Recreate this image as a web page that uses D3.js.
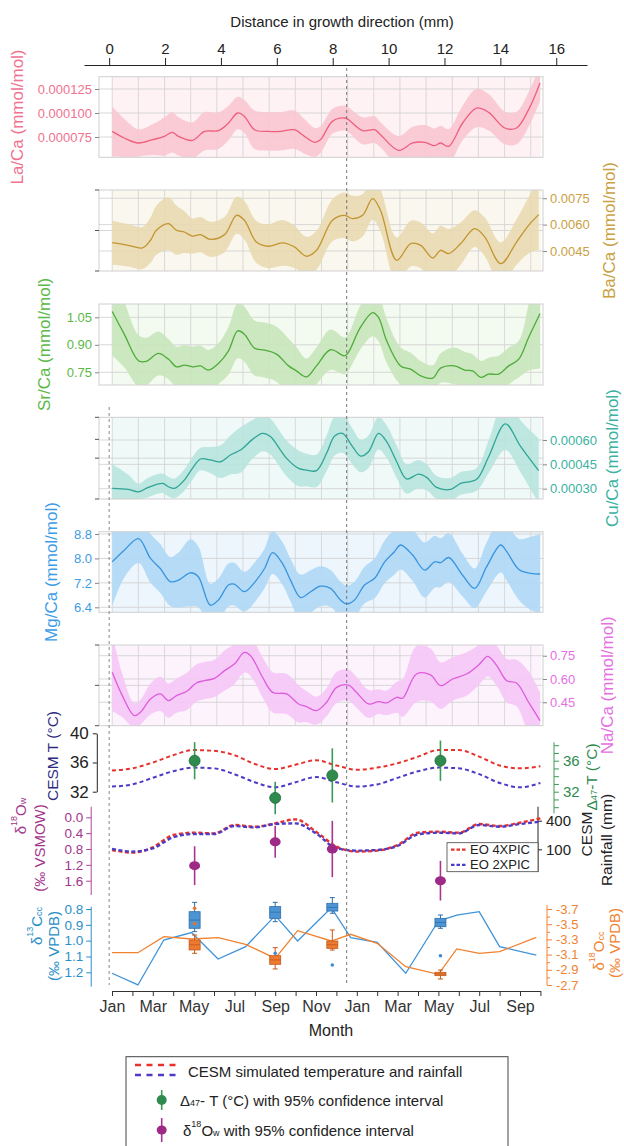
<!DOCTYPE html>
<html>
<head>
<meta charset="utf-8">
<script src="https://cdn.jsdelivr.net/npm/d3@7"></script>
<style>
  html, body { margin: 0; padding: 0; background: #fff; }
  svg { display: block; }
</style>
</head>
<body>
<script>
// ---------------- data ----------------
const distTicks = [0, 2, 4, 6, 8, 10, 12, 14, 16];

// La/Ca (x1e-6 mmol/mol): smoothed mean and half-width of the confidence band
const laMm   = [0.11,0.54,1.05,1.55,1.98,2.26,2.48,2.98,3.41,3.91,4.27,4.60,4.84,5.20,5.70,6.13,6.63,6.99,7.35,7.56,7.99,8.42,8.56,9.07,9.50,9.71,10.36,10.86,11.29,11.65,11.86,12.15,12.65,13.15,13.58,14.16,14.58,15.01,15.42];
const laMean = [80.9,74,68.8,72.2,75.7,79.9,75.7,71.5,80.9,81.6,89.6,100,96.5,82.6,80.9,80.9,82.6,75.7,69.5,72.2,91.3,94.8,93.1,81.6,82.6,77.4,61.1,68.8,69.5,66,68.8,65.3,89.6,105.2,100.7,84.4,84.4,103.5,131.2];
const laHw   = [26,20,14,16,20,21,20,19,20,19,18,17,17,20,20,20,20,18,15,14,13,13,13,14,14,13,15,17,18,18,18,18,18,20,19,17,17,18,19];
const laTicks = [75, 100, 125];

// Ba/Ca (x1e-4 mmol/mol)
const baMm   = [0.11,0.69,1.19,1.48,1.69,2.12,2.41,2.69,2.98,3.27,3.62,4.13,4.56,4.84,5.27,5.70,6.20,6.63,7.06,7.42,7.99,8.42,8.71,9.07,9.43,9.71,10.29,10.79,11.15,11.58,11.86,12.15,12.58,13.08,13.44,14.01,14.58,15.01,15.37];
const baMean = [49.7,48.2,46.7,51.1,56.8,60.6,56.8,55.8,53.5,54.3,51.6,54.3,65.3,62.5,50.1,47.7,49.6,47.3,42,45.4,62.5,65.3,63.4,65.3,74.8,68.2,39.7,49.2,48.2,41,45.4,43.5,49.2,57.7,53,37.8,50.1,59.6,65.7];
const baHw   = [12.5,12,12,13,14,15,14,12,10,10,10,10,10.5,11,12,12.5,13,12,11,11,12,13,13,12,12,12,13,13,13,14,14,14,12,10.5,11,12,13,16,20];
const baTicks = [45, 60, 75];

// Sr/Ca (mmol/mol)
const srMm   = [0.11,0.54,1.05,1.33,1.76,2.12,2.41,2.69,2.98,3.27,3.55,3.91,4.27,4.60,4.84,5.20,5.56,5.99,6.42,6.70,7.06,7.42,7.92,8.42,8.56,8.99,9.43,9.64,9.93,10.43,10.79,11.15,11.58,11.86,12.36,12.72,13.01,13.30,13.58,13.94,14.30,14.66,15.01,15.42];
const srMean = [1.082,0.958,0.813,0.809,0.853,0.822,0.780,0.789,0.780,0.785,0.762,0.798,0.867,0.976,0.958,0.882,0.871,0.849,0.785,0.758,0.725,0.785,0.873,0.840,0.858,0.995,1.076,1.049,0.922,0.785,0.767,0.731,0.718,0.773,0.785,0.762,0.758,0.722,0.740,0.740,0.785,0.822,0.940,1.071];
const srHw   = [0.24,0.18,0.14,0.13,0.12,0.11,0.11,0.11,0.11,0.11,0.11,0.11,0.13,0.15,0.15,0.15,0.15,0.15,0.15,0.13,0.10,0.10,0.11,0.10,0.10,0.12,0.13,0.13,0.12,0.10,0.09,0.08,0.07,0.08,0.10,0.10,0.09,0.09,0.09,0.10,0.10,0.10,0.18,0.30];
const srTicks = [0.75, 0.90, 1.05];

// Cu/Ca (x1e-5 mmol/mol)
const cuMm   = [0.11,0.69,1.05,1.40,1.91,2.12,2.34,2.69,2.98,3.27,3.62,3.98,4.34,4.70,5.13,5.49,5.77,6.13,6.35,6.78,7.06,7.42,7.78,8.07,8.35,8.71,9.00,9.28,9.64,9.93,10.29,10.64,11.07,11.36,11.72,12.22,12.58,13.15,13.58,14.18,14.73,15.37];
const cuMean = [30.2,29.6,28.1,30.8,33.3,31.2,30.2,35.3,42.5,48.3,47.7,46.6,50.8,53.8,60.4,64.1,62.1,53.8,48.7,42.5,41.5,41.1,51.8,62.5,64.1,55.9,50.1,52.8,64.1,59,46.6,36,39,37,30.8,29.6,33.3,35.8,49.7,69.9,55.9,41.1];
const cuHw   = [15,9,5,6,6,6,6,6.5,7,7,8,10,12,14,12,11,11,11,11,11,10,10,11,12,12,11,10,10,10,10,10,9,8.7,8,7,7,7,7,10,16,16,20];
const cuTicks = [30, 45, 60];

// Mg/Ca (mmol/mol)
const mgMm   = [0.11,0.54,1.05,1.48,1.83,2.19,2.48,2.91,3.19,3.62,3.91,4.27,4.48,4.84,5.27,5.56,5.85,6.20,6.49,6.85,7.21,7.56,7.92,8.28,8.50,8.78,9.14,9.50,9.86,10.21,10.43,10.86,11.29,11.65,11.86,12.15,12.65,13.08,13.51,14.01,14.23,14.66,15.09,15.42];
const mgMean = [7.89,8.27,8.65,8.0,7.67,7.24,7.29,7.53,7.40,6.47,6.64,7.13,7.16,6.91,7.29,7.67,8.19,7.84,7.29,6.72,6.91,7.09,7.02,6.64,6.51,6.64,7.13,7.35,7.89,8.22,8.44,8.11,7.62,7.89,7.86,8.03,7.45,7.02,7.73,8.44,8.22,7.64,7.51,7.49];
const mgHw   = [1.45,0.9,0.8,0.8,0.8,0.8,0.9,1.1,1.0,0.7,0.7,0.7,0.7,0.65,0.65,0.65,0.7,0.7,0.7,0.75,0.7,0.65,0.6,0.6,0.6,0.6,0.6,0.65,0.7,0.75,0.8,0.85,0.9,0.85,0.8,0.8,0.7,0.65,0.8,0.9,0.95,1.0,1.2,1.3];
const mgTicks = [6.4, 7.2, 8.0, 8.8];

// Na/Ca (mmol/mol)
const naMm   = [0.11,0.47,0.90,1.12,1.48,1.83,2.12,2.41,2.77,3.12,3.41,3.77,4.13,4.48,4.84,5.06,5.49,5.85,6.35,6.78,7.06,7.42,7.78,8.14,8.56,8.85,9.28,9.64,9.93,10.29,10.50,11.00,11.50,11.86,12.29,12.79,13.22,13.55,13.87,14.23,14.58,15.01,15.42];
const naMean = [0.643,0.493,0.364,0.386,0.471,0.504,0.461,0.493,0.519,0.574,0.589,0.604,0.654,0.696,0.771,0.750,0.611,0.514,0.504,0.439,0.422,0.396,0.450,0.546,0.561,0.514,0.439,0.454,0.446,0.482,0.476,0.632,0.626,0.557,0.600,0.632,0.690,0.746,0.686,0.589,0.574,0.450,0.332];
const naHw   = [0.25,0.14,0.08,0.08,0.10,0.11,0.11,0.11,0.12,0.12,0.12,0.12,0.13,0.13,0.13,0.13,0.13,0.13,0.13,0.12,0.10,0.09,0.09,0.10,0.10,0.10,0.09,0.08,0.08,0.10,0.12,0.18,0.17,0.15,0.14,0.14,0.13,0.13,0.13,0.14,0.15,0.20,0.18];
const naTicks = [0.45, 0.60, 0.75];

// CESM monthly output, Jan (year 1) .. Oct (year 2)
const monthLabels = ["Jan","","Mar","","May","","Jul","","Sep","","Nov","","Jan","","Mar","","May","","Jul","","Sep",""];
const tempEO4 = [34.9,35.2,36.0,37.0,37.7,37.6,37.0,35.8,35.1,35.7,36.3,35.6,35.0,35.3,35.9,36.8,37.7,37.7,36.8,35.6,35.2,35.5];
const tempEO2 = [32.7,33.0,33.9,34.8,35.3,35.2,34.4,33.3,32.6,33.3,34.0,33.3,32.7,33.0,33.9,34.8,35.3,35.2,34.4,33.2,32.6,33.2];
const rainEO4 = [93,65,121,250,274,267,355,337,372,414,285,128,76,86,145,274,285,274,365,344,379,424];
const rainEO2 = [104,76,110,226,260,260,344,330,365,372,267,110,86,93,135,257,274,267,355,337,365,390];
const tempTicks = [32, 36, 40];
const rainTicks = [100, 400];

// clumped-isotope samples (month position of each sample)
const sampleMonth = [4.05, 8.0, 10.8, 16.1];
const d47T   = [36.0, 31.2, 34.1, 36.0];
const d47CI  = [2.4, 2.1, 3.5, 2.6];
const d47Ticks = [32, 36];
const d18Ow  = [1.22, 0.62, 0.80, 1.60];
const d18OwCI = [0.49, 0.40, 0.71, 0.50];
const d18OwTicks = [0.0, 0.4, 0.8, 1.2, 1.6];

// carbonate isotopes
const isoMonth = [0,1.27,2.54,3.9,5.2,6.55,8.0,9.1,10.75,11.7,13.0,14.4,16.0,16.9,18.0,19.0,20.8];
const d13C = [1.206,1.28,0.996,0.949,1.116,1.038,0.842,1.002,0.792,0.981,1.011,1.206,0.876,0.838,0.817,1.038,1.091];
const d18Occ = [-3.125,-3.125,-3.336,-3.305,-3.323,-3.235,-3.05,-3.415,-3.279,-3.367,-3.248,-2.941,-2.84,-3.174,-3.117,-3.139,-3.327];
const d13CTicks = [0.8, 0.9, 1.0, 1.1, 1.2];
const d18OccTicks = [-3.7, -3.5, -3.3, -3.1, -2.9, -2.7];

// box summaries per sample: lower whisker, Q1, median, Q3, upper whisker
const c13Lo  = [0.758, 0.758, 0.728, 0.838];
const c13Q1  = [0.817, 0.785, 0.764, 0.859];
const c13Med = [0.870, 0.820, 0.790, 0.885];
const c13Q3  = [0.922, 0.859, 0.813, 0.912];
const c13Hi  = [0.943, 0.880, 0.827, 0.922];
const c13OutMonth = [8.0, 10.8, 16.1];
const c13Out      = [1.08, 1.154, 1.095];
const o18Lo  = [-3.358, -3.191, -3.424, -2.897];
const o18Q1  = [-3.292, -3.086, -3.279, -2.867];
const o18Med = [-3.230, -3.030, -3.230, -2.845];
const o18Q3  = [-3.161, -2.972, -3.182, -2.823];
const o18Hi  = [-3.117, -2.911, -3.160, -2.779];
const o18OutMonth = [4.05, 4.05];
const o18Out      = [-3.71, -3.51];

// ---------------- layout ----------------
const W = 624, H = 1146;
const FONT = "'Liberation Sans', Arial, Helvetica, sans-serif";
const svg = d3.select("body").append("svg")
  .attr("width", W).attr("height", H)
  .attr("font-family", FONT);
const defs = svg.append("defs");

const PL = 99, PR = 543;                         // element panel edges
const x  = d3.scaleLinear().domain([-0.9, 17.1]).range([84, 587]);   // distance (mm)
const xm = d3.scaleLinear().domain([0, 21]).range([112, 540.4]);     // month index
const gridMm = d3.range(17).map(k => 0.11 + k * 0.936);

function styleAxis(g, size, color, tickColor) {
  g.attr("font-family", FONT).attr("font-size", size);
  g.selectAll("text").attr("fill", color);
  g.selectAll(".tick line").attr("stroke", tickColor);
  g.select(".domain").attr("stroke", tickColor);
}

// rotated (bottom-to-top) label made of plain / sup / sub pieces
function rotText(xc, yc, parts, size, color) {
  const t = svg.append("text")
    .attr("transform", `translate(${xc},${yc}) rotate(-90)`)
    .attr("text-anchor", "middle").attr("dominant-baseline", "central")
    .attr("font-size", size).attr("fill", color);
  addParts(t, parts, size);
  return t;
}
function addParts(t, parts, size) {
  let shift = 0;
  parts.forEach(([s, kind]) => {
    const target = kind === "sup" ? -0.38 * size : kind === "sub" ? 0.22 * size : 0;
    const ts = t.append("tspan").text(s);
    if (kind) ts.attr("font-size", size * 0.6);
    const dy = target - shift;
    if (dy !== 0) ts.attr("dy", dy);
    shift = target;
  });
}

// ---------------- distance axis ----------------
const topAx = svg.append("g").attr("transform", "translate(0,65)")
  .call(d3.axisTop(x).tickValues(distTicks).tickSize(7).tickSizeOuter(0).tickPadding(4));
styleAxis(topAx, 15, "#222", "#222");
topAx.select(".domain").attr("stroke-width", 1.2);
svg.append("text").attr("x", 342).attr("y", 27).attr("text-anchor", "middle")
  .attr("font-size", 15).attr("fill", "#222").text("Distance in growth direction (mm)");

// ---------------- element panels ----------------
const elementPanels = [
  { name: "La", mm: laMm, mean: laMean, hw: laHw, ticks: laTicks, unit: 1e-6, digits: 6,
    top: 76.7, bottom: 157.3, domain: [53.9, 137.8], side: "left", titleX: 17,
    text: "#f2718f", line: "#ef5f7d", band: "#f9c6d1", otherFrac: [] },
  { name: "Ba", mm: baMm, mean: baMean, hw: baHw, ticks: baTicks, unit: 1e-4, digits: 4,
    top: 190, bottom: 271, domain: [33.6, 79.7], side: "right", titleX: 609,
    text: "#c9a13f", line: "#c29531", band: "#e9d9b0", otherFrac: [0, 0.5, 1] },
  { name: "Sr", mm: srMm, mean: srMean, hw: srHw, ticks: srTicks, unit: 1, digits: 2,
    top: 304, bottom: 385, domain: [0.6807, 1.1226], side: "left", titleX: 44,
    text: "#5bb947", line: "#4fab3a", band: "#c8e6bb", otherFrac: [] },
  { name: "Cu", mm: cuMm, mean: cuMean, hw: cuHw, ticks: cuTicks, unit: 1e-5, digits: 5,
    top: 417.3, bottom: 499, domain: [23.65, 74.0], side: "right", titleX: 612,
    text: "#3bb2a2", line: "#2ea595", band: "#b7e4dd", otherFrac: [0, 0.27, 0.5, 1] },
  { name: "Mg", mm: mgMm, mean: mgMean, hw: mgHw, ticks: mgTicks, unit: 1, digits: 1,
    top: 531.7, bottom: 612.3, domain: [6.236, 8.875], side: "left", titleX: 51,
    text: "#3d9ce6", line: "#3995de", band: "#afd8f6", otherFrac: [] },
  { name: "Na", mm: naMm, mean: naMean, hw: naHw, ticks: naTicks, unit: 1, digits: 2,
    top: 645, bottom: 725.7, domain: [0.299, 0.819], side: "right", titleX: 607,
    text: "#e56fe5", line: "#dd5cdd", band: "#f6c7f6", otherFrac: [0, 0.5, 1] }
];

elementPanels.forEach(p => {
  const y = d3.scaleLinear().domain(p.domain).range([p.bottom, p.top]);
  const g = svg.append("g");
  const id = "clip" + p.name;
  defs.append("clipPath").attr("id", id).append("rect")
    .attr("x", PL).attr("y", p.top).attr("width", PR - PL).attr("height", p.bottom - p.top);

  // faint tint of the raw measurements
  g.append("rect").attr("x", xm(0)).attr("y", p.top).attr("width", x(15.45) - xm(0))
    .attr("height", p.bottom - p.top).attr("fill", p.band).attr("fill-opacity", 0.22);

  // grid
  g.selectAll(null).data(gridMm).join("line")
    .attr("x1", d => x(d)).attr("x2", d => x(d)).attr("y1", p.top).attr("y2", p.bottom)
    .attr("stroke", "#d2d2d2").attr("stroke-width", 0.8);
  const hy = p.ticks.map(t => y(t));
  if (p.side === "right") hy.push((p.top + p.bottom) / 2);
  g.selectAll(null).data(hy).join("line")
    .attr("x1", PL).attr("x2", PR).attr("y1", d => d).attr("y2", d => d)
    .attr("stroke", "#d2d2d2").attr("stroke-width", 0.9);

  const rows = p.mm.map((m, i) => ({ m, v: p.mean[i], h: p.hw[i] }));
  const curve = d3.curveCatmullRom.alpha(0.5);
  g.append("path").datum(rows).attr("clip-path", `url(#${id})`)
    .attr("fill", p.band).attr("fill-opacity", 0.9)
    .attr("d", d3.area().x(d => x(d.m)).y0(d => y(d.v - d.h)).y1(d => y(d.v + d.h)).curve(curve));
  g.append("path").datum(rows).attr("clip-path", `url(#${id})`)
    .attr("fill", "none").attr("stroke", p.line).attr("stroke-width", 1.3)
    .attr("d", d3.line().x(d => x(d.m)).y(d => y(d.v)).curve(curve));

  // frame
  g.append("rect").attr("x", PL).attr("y", p.top).attr("width", PR - PL).attr("height", p.bottom - p.top)
    .attr("fill", "none").attr("stroke", "#cfcfcf").attr("stroke-width", 1);

  // labelled axis
  const ax = (p.side === "left" ? d3.axisLeft(y) : d3.axisRight(y))
    .tickValues(p.ticks).tickFormat(d => (d * p.unit).toFixed(p.digits))
    .tickSize(4).tickSizeOuter(0).tickPadding(3);
  const axg = g.append("g").attr("transform", `translate(${p.side === "left" ? PL : PR},0)`).call(ax);
  axg.select(".domain").remove();
  styleAxis(axg, 13, p.text, "#888");

  // plain ticks on the opposite spine
  g.selectAll(null).data(p.otherFrac).join("line")
    .attr("x1", PL - 4).attr("x2", PL)
    .attr("y1", f => p.top + f * (p.bottom - p.top)).attr("y2", f => p.top + f * (p.bottom - p.top))
    .attr("stroke", "#555");

  rotText(p.titleX, (p.top + p.bottom) / 2, [[p.name + "/Ca (mmol/mol)"]], 17, p.text);
});

// ---------------- CESM temperature + Δ47 temperature ----------------
const yT = d3.scaleLinear().domain([32, 40]).range([791.7, 733.3]);
const yG = d3.scaleLinear().domain([32, 36]).range([791.7, 760.7]);
const RED = "#e8312b", BLUE = "#4b3bc6";
const monthCurve = d3.curveMonotoneX;

const tAx = svg.append("g").attr("transform", "translate(96.8,0)")
  .call(d3.axisLeft(yT).tickValues(tempTicks).tickSize(4).tickSizeOuter(0).tickPadding(4));
styleAxis(tAx, 17, "#222", "#222");
rotText(52, 756, [["CESM T (°C)"]], 15.5, "#2d2a7e");

[[tempEO4, RED], [tempEO2, BLUE]].forEach(([arr, c]) => {
  svg.append("path").datum(arr).attr("fill", "none").attr("stroke", c)
    .attr("stroke-width", 2).attr("stroke-dasharray", "4,3")
    .attr("d", d3.line().x((d, i) => xm(i)).y(d => yT(d)).curve(monthCurve));
});

const gAx = svg.append("g").attr("transform", "translate(554,0)")
  .call(d3.axisRight(yG).tickValues(d3.range(30, 39)).tickSize(5).tickSizeOuter(0).tickPadding(4)
    .tickFormat(d => d47Ticks.includes(d) ? d : ""));
gAx.select(".domain").attr("d", "M0,742.3V813.3");
styleAxis(gAx, 15, "#2e8b4f", "#3a9a5a");
gAx.selectAll(".tick").filter(d => d < 29.2 || d > 38.4).remove();
rotText(591, 777, [["Δ"], ["47", "sub"], ["-T (°C)"]], 15.5, "#2e8b4f");

// ---------------- rainfall + δ18Ow ----------------
const yR = d3.scaleLinear().domain([100, 400]).range([849.3, 820.7]);
const yW = d3.scaleLinear().domain([0, 1.6]).range([817.3, 880.7]);

const wAx = svg.append("g").attr("transform", "translate(91.2,0)")
  .call(d3.axisLeft(yW).tickValues(d18OwTicks).tickFormat(d3.format(".1f")).tickSize(5).tickSizeOuter(0).tickPadding(3));
wAx.select(".domain").attr("d", "M0,806.7V895");
styleAxis(wAx, 13.5, "#a3358c", "#b0449a");
rotText(20, 816, [["δ"], ["18", "sup"], ["O"], ["w", "sub"]], 15, "#a3358c");
rotText(39, 848, [["(‰ VSMOW)"]], 15, "#a3358c");

const rAx = svg.append("g").attr("transform", "translate(538,0)")
  .call(d3.axisRight(yR).tickValues(rainTicks).tickSize(4).tickSizeOuter(0).tickPadding(4));
rAx.select(".domain").attr("d", "M0,806.7V871.7");
styleAxis(rAx, 15, "#222", "#222");
rotText(586, 834, [["CESM"]], 15.5, "#222");
rotText(606, 840, [["Rainfall (mm)"]], 15.5, "#222");

[[rainEO4, RED], [rainEO2, BLUE]].forEach(([arr, c]) => {
  svg.append("path").datum(arr).attr("fill", "none").attr("stroke", c)
    .attr("stroke-width", 2.4).attr("stroke-dasharray", "4,2.5")
    .attr("d", d3.line().x((d, i) => xm(i)).y(d => yR(d)).curve(monthCurve));
});

// rainfall legend
const lg = svg.append("g");
lg.append("rect").attr("x", 447).attr("y", 842.7).attr("width", 91).attr("height", 29)
  .attr("fill", "#fff").attr("stroke", "#444").attr("stroke-width", 0.8);
[["EO 4XPIC", RED, 849.6], ["EO 2XPIC", BLUE, 864.8]].forEach(([lab, c, yy]) => {
  lg.append("line").attr("x1", 451).attr("x2", 467).attr("y1", yy).attr("y2", yy)
    .attr("stroke", c).attr("stroke-width", 2.2).attr("stroke-dasharray", "3.5,2");
  lg.append("text").attr("x", 470).attr("y", yy).attr("dominant-baseline", "central")
    .attr("font-size", 13).attr("fill", "#222").text(lab);
});

// Δ47 temperatures with 95% CI
sampleMonth.forEach((m, i) => {
  svg.append("line").attr("x1", xm(m)).attr("x2", xm(m))
    .attr("y1", yG(d47T[i] + d47CI[i])).attr("y2", yG(d47T[i] - d47CI[i]))
    .attr("stroke", "#3a9a5a").attr("stroke-width", 1.6);
  svg.append("circle").attr("cx", xm(m)).attr("cy", yG(d47T[i])).attr("r", 5.5)
    .attr("fill", "#2f8a4e").attr("stroke", "#1f6b3a").attr("stroke-width", 0.8);
});

// δ18Ow with 95% CI
sampleMonth.forEach((m, i) => {
  svg.append("line").attr("x1", xm(m)).attr("x2", xm(m))
    .attr("y1", yW(d18Ow[i] - d18OwCI[i])).attr("y2", yW(d18Ow[i] + d18OwCI[i]))
    .attr("stroke", "#a8358f").attr("stroke-width", 1.6);
  svg.append("ellipse").attr("cx", xm(m)).attr("cy", yW(d18Ow[i])).attr("rx", 5.5).attr("ry", 4.5)
    .attr("fill", "#9c2a86");
});

// ---------------- carbonate δ13C / δ18O ----------------
const yC = d3.scaleLinear().domain([0.8, 1.2]).range([909, 972.3]);
const yO = d3.scaleLinear().domain([-3.7, -2.7]).range([909, 985]);
const CB = "#3f93d8", CO = "#f0822f";

const cAx = svg.append("g").attr("transform", "translate(91.2,0)")
  .call(d3.axisLeft(yC).tickValues(d13CTicks).tickFormat(d3.format(".1f")).tickSize(5).tickSizeOuter(0).tickPadding(3));
cAx.select(".domain").attr("d", "M0,906.7V986.7");
styleAxis(cAx, 13.5, "#2a8fc8", "#2a8fc8");
rotText(36, 926, [["δ"], ["13", "sup"], ["C"], ["cc", "sub"]], 15, "#2a8fc8");
rotText(53, 946, [["(‰ VPDB)"]], 15, "#2a8fc8");

const oAx = svg.append("g").attr("transform", "translate(547,0)")
  .call(d3.axisRight(yO).tickValues(d3.range(-3.7, -2.65, 0.1)).tickSize(5).tickSizeOuter(0).tickPadding(4)
    .tickFormat(d => d18OccTicks.some(t => Math.abs(t - d) < 1e-6) ? d.toFixed(1) : ""));
oAx.select(".domain").attr("d", "M0,905V985");
styleAxis(oAx, 13, "#f0822f", "#f0822f");
oAx.selectAll(".tick").filter(function () { return d3.select(this).select("text").text() === ""; })
  .select("line").attr("x2", 3);
rotText(598, 951, [["δ"], ["18", "sup"], ["O"], ["cc", "sub"]], 15, "#f0822f");
rotText(614, 943, [["(‰ VPDB)"]], 15, "#f0822f");

svg.append("path").datum(d13C).attr("fill", "none").attr("stroke", CB).attr("stroke-width", 1.3)
  .attr("d", d3.line().x((d, i) => xm(isoMonth[i])).y(d => yC(d)));
svg.append("path").datum(d18Occ).attr("fill", "none").attr("stroke", CO).attr("stroke-width", 1.3)
  .attr("d", d3.line().x((d, i) => xm(isoMonth[i])).y(d => yO(d)));

function boxes(y, lo, q1, med, q3, hi, fill, stroke) {
  sampleMonth.forEach((m, i) => {
    const cx = xm(m), bw = 11;
    const g = svg.append("g");
    g.append("line").attr("x1", cx).attr("x2", cx).attr("y1", y(lo[i])).attr("y2", y(hi[i]))
      .attr("stroke", stroke).attr("stroke-width", 1);
    [lo[i], hi[i]].forEach(v => g.append("line").attr("x1", cx - 2.5).attr("x2", cx + 2.5)
      .attr("y1", y(v)).attr("y2", y(v)).attr("stroke", stroke));
    const a = y(q1[i]), b = y(q3[i]);
    g.append("rect").attr("x", cx - bw / 2).attr("y", Math.min(a, b)).attr("width", bw)
      .attr("height", Math.abs(b - a)).attr("fill", fill).attr("stroke", stroke).attr("stroke-width", 0.8);
    g.append("line").attr("x1", cx - bw / 2).attr("x2", cx + bw / 2).attr("y1", y(med[i])).attr("y2", y(med[i]))
      .attr("stroke", stroke).attr("stroke-width", 0.8);
  });
}
boxes(yO, o18Lo, o18Q1, o18Med, o18Q3, o18Hi, "#ec7a30", "#c4591a");
boxes(yC, c13Lo, c13Q1, c13Med, c13Q3, c13Hi, "#4d94d4", "#2f6ea8");
c13OutMonth.forEach((m, i) => svg.append("circle").attr("cx", xm(m)).attr("cy", yC(c13Out[i])).attr("r", 1.8).attr("fill", "#3f8ad0"));
o18OutMonth.forEach((m, i) => svg.append("circle").attr("cx", xm(m)).attr("cy", yO(o18Out[i])).attr("r", 1.8).attr("fill", "#e8742a"));

// month axis
const mAx = svg.append("g").attr("transform", "translate(0,991)")
  .call(d3.axisBottom(xm).tickValues(d3.range(22)).tickSize(5).tickSizeOuter(0).tickPadding(5)
    .tickFormat(d => monthLabels[d]));
styleAxis(mAx, 16, "#333", "#333");
mAx.select(".domain").attr("stroke-width", 1.2);
svg.append("text").attr("x", 331).attr("y", 1036).attr("text-anchor", "middle")
  .attr("font-size", 16).attr("fill", "#222").text("Month");

// ---------------- year boundaries ----------------
svg.append("line").attr("x1", x(8.5)).attr("x2", x(8.5)).attr("y1", 68).attr("y2", 985)
  .attr("stroke", "#777").attr("stroke-width", 1).attr("stroke-dasharray", "3,3");
svg.append("line").attr("x1", x(0)).attr("x2", x(0)).attr("y1", 407).attr("y2", 985)
  .attr("stroke", "#888").attr("stroke-width", 1).attr("stroke-dasharray", "3,3");

// ---------------- legend ----------------
const L = svg.append("g");
L.append("rect").attr("x", 126).attr("y", 1056.7).attr("width", 382).attr("height", 110)
  .attr("fill", "#fff").attr("stroke", "#444").attr("stroke-width", 1);
[[RED, 1065], [BLUE, 1075]].forEach(([c, yy]) =>
  L.append("line").attr("x1", 135).attr("x2", 179).attr("y1", yy).attr("y2", yy)
    .attr("stroke", c).attr("stroke-width", 2.4).attr("stroke-dasharray", "6,5.5"));
L.append("text").attr("x", 188).attr("y", 1071.5).attr("dominant-baseline", "central")
  .attr("font-size", 15).attr("fill", "#222").text("CESM simulated temperature and rainfall");

L.append("line").attr("x1", 161.7).attr("x2", 161.7).attr("y1", 1090).attr("y2", 1110).attr("stroke", "#3a9a5a").attr("stroke-width", 1.6);
L.append("circle").attr("cx", 161.7).attr("cy", 1100).attr("r", 5).attr("fill", "#2f8a4e");
const t2 = L.append("text").attr("x", 180).attr("y", 1100).attr("dominant-baseline", "central")
  .attr("font-size", 15).attr("fill", "#222");
addParts(t2, [["Δ"], ["47", "sub"], ["- T (°C) with 95% confidence interval"]], 15);

L.append("line").attr("x1", 161.7).attr("x2", 161.7).attr("y1", 1118).attr("y2", 1142).attr("stroke", "#a8358f").attr("stroke-width", 1.6);
L.append("ellipse").attr("cx", 161.7).attr("cy", 1130).attr("rx", 5).attr("ry", 4.5).attr("fill", "#9c2a86");
const t3 = L.append("text").attr("x", 183).attr("y", 1130).attr("dominant-baseline", "central")
  .attr("font-size", 15).attr("fill", "#222");
addParts(t3, [["δ"], ["18", "sup"], ["O"], ["w", "sub"], [" with 95% confidence interval"]], 15);
</script>
</body>
</html>
